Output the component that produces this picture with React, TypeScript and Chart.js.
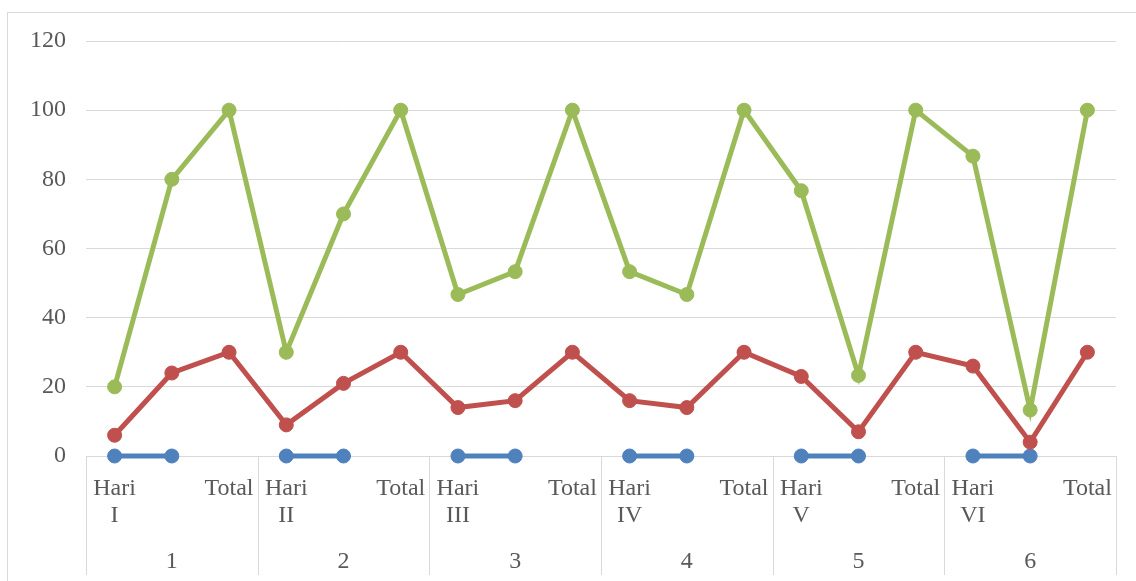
import React, { useEffect, useRef } from "react";
import { Chart, registerables } from "chart.js";

Chart.register(...registerables);

const dayLabels: (string | string[])[] = [
  ["Hari", "I"], "", "Total",
  ["Hari", "II"], "", "Total",
  ["Hari", "III"], "", "Total",
  ["Hari", "IV"], "", "Total",
  ["Hari", "V"], "", "Total",
  ["Hari", "VI"], "", "Total",
];
const groupLabels = ["1", "2", "3", "4", "5", "6"];

const blueValues = [0, 0, null, 0, 0, null, 0, 0, null, 0, 0, null, 0, 0, null, 0, 0, null];
const redValues = [6, 24, 30, 9, 21, 30, 14, 16, 30, 16, 14, 30, 23, 7, 30, 26, 4, 30];
const greenValues = [20, 80, 100, 30, 70, 100, 46.7, 53.3, 100, 53.3, 46.7, 100, 76.7, 23.3, 100, 86.7, 13.3, 100];

const yTicks = [0, 20, 40, 60, 80, 100, 120];

const BLUE = "#4F81BD";
const RED = "#C0504D";
const GREEN = "#9BBB59";
const GRID = "#D9D9D9";
const TEXT = "#595959";
const FONT = { family: "'Liberation Serif', serif", size: 24, lineHeight: 1.125 };

const framePlugin = {
  id: "frame",
  beforeDraw(chart: any) {
    const ctx = chart.ctx;
    ctx.save();
    ctx.fillStyle = "#ffffff";
    ctx.fillRect(0, 0, chart.width, chart.height);
    ctx.strokeStyle = GRID;
    ctx.lineWidth = 1;
    ctx.strokeRect(7.5, 12.5, chart.width, chart.height);
    ctx.restore();
  },
  beforeDatasetsDraw(chart: any) {
    const x = chart.scales.x;
    const x2 = chart.scales.x2;
    const ctx = chart.ctx;
    const half = (x.getPixelForValue(1) - x.getPixelForValue(0)) / 2;
    const per = dayLabels.length / groupLabels.length;
    ctx.save();
    ctx.strokeStyle = GRID;
    ctx.lineWidth = 1;
    for (let g = 0; g <= groupLabels.length; g++) {
      const px =
        g < groupLabels.length
          ? x.getPixelForValue(g * per) - half
          : x.getPixelForValue(dayLabels.length - 1) + half;
      const xx = Math.round(px) + 0.5;
      ctx.beginPath();
      ctx.moveTo(xx, chart.chartArea.bottom);
      ctx.lineTo(xx, x2.bottom - 6);
      ctx.stroke();
    }
    ctx.restore();
  },
};

export default function App() {
  const ref = useRef<HTMLCanvasElement | null>(null);

  useEffect(() => {
    if (!ref.current) return;
    const mk = (data: (number | null)[], color: string, order: number) => ({
      data,
      borderColor: color,
      backgroundColor: color,
      pointBackgroundColor: color,
      pointBorderColor: color,
      borderWidth: 5,
      pointRadius: 7,
      pointBorderWidth: 1,
      spanGaps: false,
      tension: 0,
      clip: false,
      order,
    });
    const chart = new Chart(ref.current, {
      type: "line",
      data: {
        labels: dayLabels as any,
        datasets: [
          mk(blueValues, BLUE, 2),
          mk(redValues, RED, 1),
          mk(greenValues, GREEN, 0),
        ] as any,
      },
      plugins: [framePlugin],
      options: {
        responsive: false,
        animation: false,
        layout: { padding: { top: 41, right: 20, left: 0, bottom: 0 } },
        plugins: { legend: { display: false }, tooltip: { enabled: false } },
        scales: {
          x: {
            type: "category",
            position: "bottom",
            offset: true,
            grid: { display: false, drawTicks: false },
            border: { display: false },
            ticks: {
              autoSkip: false,
              maxRotation: 0,
              minRotation: 0,
              padding: 19,
              color: TEXT,
              font: FONT,
            },
            afterFit: (s: any) => {
              s.height = 80;
            },
          },
          x2: {
            type: "category",
            position: "bottom",
            labels: groupLabels,
            offset: true,
            grid: { display: false, drawTicks: false },
            border: { display: false },
            ticks: {
              autoSkip: false,
              maxRotation: 0,
              padding: 12,
              color: TEXT,
              font: FONT,
            },
            afterFit: (s: any) => {
              s.height = 45;
            },
          },
          y: {
            min: 0,
            max: 120,
            afterBuildTicks: (s: any) => {
              s.ticks = yTicks.map((v) => ({ value: v }));
            },
            grid: { color: GRID, lineWidth: 1, drawTicks: false },
            border: { display: false },
            ticks: { padding: 20, color: TEXT, font: FONT },
            afterFit: (s: any) => {
              s.width = 86;
            },
          },
        },
      } as any,
    });
    return () => chart.destroy();
  }, []);

  return (
    <canvas
      ref={ref}
      width={1136}
      height={581}
      style={{ position: "absolute", left: 0, top: 0, display: "block" }}
    />
  );
}
